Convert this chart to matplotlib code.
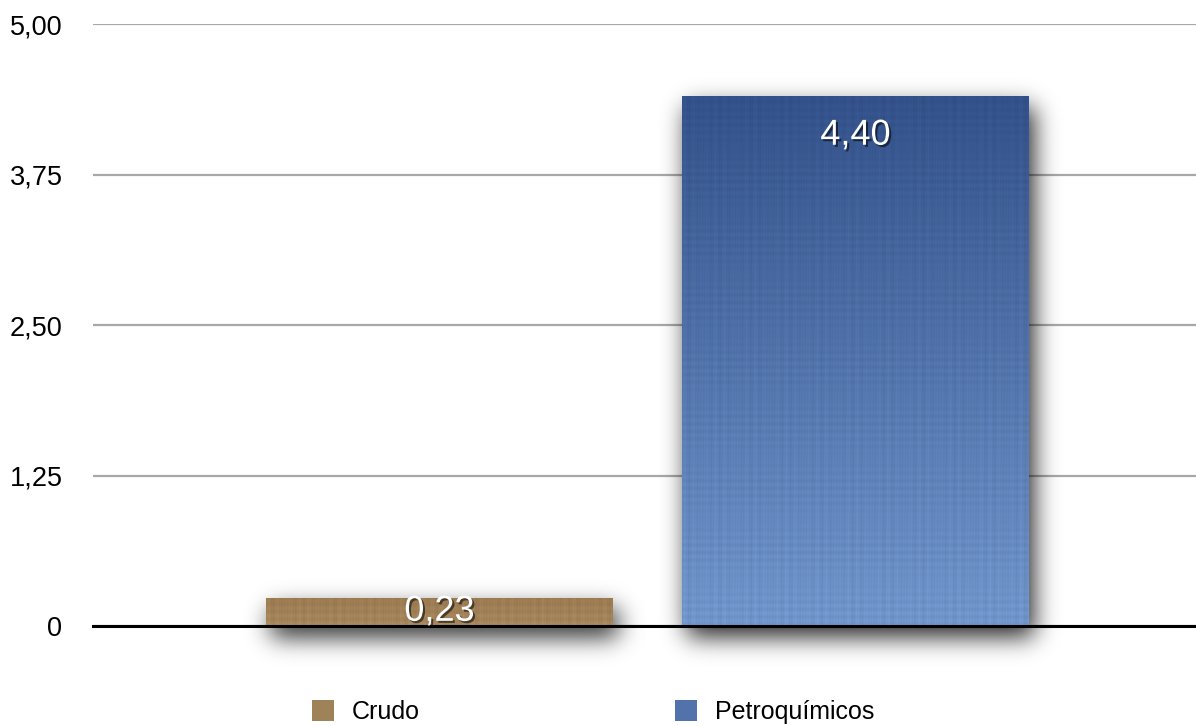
import numpy as np
import matplotlib.pyplot as plt
import matplotlib.patheffects as pe
from matplotlib.patches import Patch

plt.rcParams['font.family'] = ['Liberation Sans', 'DejaVu Sans']

# datos
categories = ['Crudo', 'Petroquímicos']
values = [0.23, 4.40]
value_labels = ['0,23', '4,40']
yticks = [0, 1.25, 2.5, 3.75, 5.0]
ytick_labels = ['0', '1,25', '2,50', '3,75', '5,00']

# colores (arriba, abajo) de cada barra
bar_top = ['#9c7b52', '#33518a']
bar_bottom = ['#a6875d', '#7096cc']
legend_colors = ['#a08259', '#5272ab']


def hex2rgb(h):
    h = h.lstrip('#')
    return np.array([int(h[i:i + 2], 16) / 255 for i in (0, 2, 4)])


def texture(nr, nc, top, bottom):
    t = np.linspace(0, 1, nr)[:, None, None]
    img = hex2rgb(top) * (1 - t) + hex2rgb(bottom) * t
    r = np.arange(nr)[:, None]
    c = np.arange(nc)[None, :]
    # textura tipo lino, patron fijo
    pat = (0.030 * np.sin(c * 0.71) * np.sin(c * 0.093 + 1.3)
           + 0.025 * np.sin(r * 0.83) * np.sin(r * 0.051 + 0.4)
           + 0.015 * np.sin(c * 2.3 + r * 0.02))
    img = img * (1 + pat[:, :, None])
    return np.clip(img, 0, 1)


def gauss_blur(a, sigma):
    n = int(3 * sigma)
    k = np.exp(-0.5 * (np.arange(-n, n + 1) / sigma) ** 2)
    k /= k.sum()
    a = np.apply_along_axis(lambda v: np.convolve(v, k, mode='same'), 0, a)
    a = np.apply_along_axis(lambda v: np.convolve(v, k, mode='same'), 1, a)
    return a


fig = plt.figure(figsize=(11.96, 7.26), dpi=100)
ax = fig.add_axes([93 / 1196, 1 - 626 / 726, 1 - 93 / 1196, (626 - 24) / 726])

x = np.arange(len(categories))
width = 0.834
xlim = (-0.833, 1.8185)
ylim = (0, 5)
ax.set_xlim(*xlim)
ax.set_ylim(*ylim)

bb = ax.get_window_extent()
sx = bb.width / (xlim[1] - xlim[0])
sy = bb.height / (ylim[1] - ylim[0])

bars = ax.bar(x, values, width, color='none', edgecolor='none', zorder=3)

pad = 50
sigma = 12
dx, dy = 5, -11
for i, b in enumerate(bars):
    x0, w, h = b.get_x(), b.get_width(), b.get_height()
    wp, hp = int(round(w * sx)), max(int(round(h * sy)), 2)

    # sombra difuminada
    mask = np.zeros((hp + 2 * pad, wp + 2 * pad))
    mask[pad:pad + hp, pad:pad + wp] = 1
    alpha = gauss_blur(mask, sigma) * 0.85
    sh = np.zeros(mask.shape + (4,))
    sh[..., 3] = alpha
    ext = [x0 + (dx - pad) / sx, x0 + w + (dx + pad) / sx,
           (dy - pad) / sy, h + (dy + pad) / sy]
    im = ax.imshow(sh, extent=ext, aspect='auto', origin='upper',
                   interpolation='bilinear', zorder=2)
    im.set_clip_on(False)

    # relleno con degradado y textura
    tex = texture(hp, wp, bar_top[i], bar_bottom[i])
    ax.imshow(tex, extent=[x0, x0 + w, 0, h], aspect='auto', origin='upper',
              interpolation='bilinear', zorder=3)

    off = -min(39, hp / 2 - 1) * 72 / 100
    ax.annotate(value_labels[i], (x[i], h), xytext=(0, off),
                textcoords='offset points', ha='center', va='center',
                color='white', fontsize=26, zorder=6,
                path_effects=[pe.withSimplePatchShadow(offset=(1.5, -1.5),
                                                       shadow_rgbFace='black',
                                                       alpha=0.55)])

ax.set_xlim(*xlim)
ax.set_ylim(*ylim)
ax.set_yticks(yticks)
ax.set_yticklabels(ytick_labels)
ax.set_xticks([])
ax.yaxis.grid(True, color='#a8a8a8', lw=1.6)
ax.set_axisbelow(True)
ax.axhline(0, color='black', lw=2.2, zorder=4, clip_on=False)
for s in ax.spines.values():
    s.set_visible(False)
ax.tick_params(axis='y', length=0, pad=22, labelsize=19.5)

handles = [Patch(facecolor=c, edgecolor='none') for c in legend_colors]
fig.legend(handles, categories, loc='upper left',
           bbox_to_anchor=(312 / 1196, 1 - 700 / 726), ncol=2, frameon=False,
           fontsize=18, handlelength=0.88, handleheight=0.88,
           handletextpad=0.72, columnspacing=10.2, borderpad=0,
           borderaxespad=0)

plt.savefig('out.png', dpi=100)
